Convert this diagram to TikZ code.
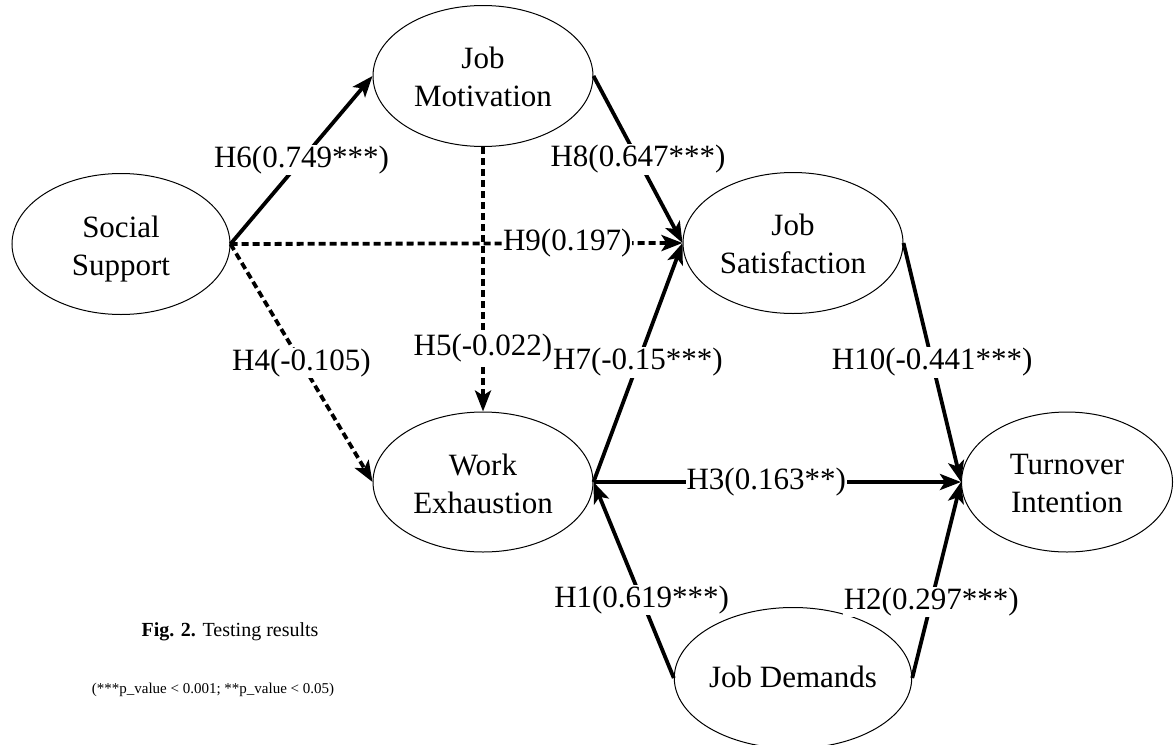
\documentclass[tikz,border=0pt]{standalone}
\usepackage{fontspec}
\setmainfont{Liberation Serif}
\usetikzlibrary{shapes.geometric,arrows.meta}
\newcommand\lowtext[2]{\raisebox{-#1}[\height][\depth]{\begin{tabular}{@{}c@{}}#2\end{tabular}}}
\begin{document}
\begin{tikzpicture}[x=1pt,y=-1pt,
  latent/.style={ellipse,draw,line width=1pt,inner sep=0pt,align=center,
    minimum width=220pt,minimum height=141pt,font=\fontsize{31}{38}\selectfont},
  hpath/.style={line width=3.8pt,-{Stealth[length=21pt,width=16pt,inset=5pt]}},
  dpath/.style={hpath,dash pattern=on 7pt off 4pt},
  lab/.style={fill=white,inner sep=1pt,font=\fontsize{31}{38}\selectfont}]
\useasboundingbox (0,0) rectangle (1174,744);
\node[latent,minimum width=218pt] (ss) at (121,244) {\lowtext{5pt}{Social\\Support}};
\node[latent] (jm) at (483,76) {\lowtext{4pt}{Job\\Motivation}};
\node[latent] (js) at (793,243) {\lowtext{4pt}{Job\\Satisfaction}};
\node[latent,minimum height=140pt] (we) at (483,482) {\lowtext{5pt}{Work\\Exhaustion}};
\node[latent,minimum width=211pt,minimum height=140pt] (ti) at (1067,482) {\lowtext{4pt}{Turnover\\Intention}};
\node[latent] (jd) at (793,678) {\lowtext{2pt}{Job Demands}};
\draw[hpath] (ss.east) -- node[lab,pos=0.5] {H6(0.749***)} (jm.west);
\draw[hpath] (jm.east) -- node[lab,pos=0.5] {H8(0.647***)} (js.west);
\draw[dpath] (ss.east) -- node[lab,pos=0.745] {H9(0.197)} (js.west);
\draw[dpath] (jm.south) -- node[lab,pos=0.76] {H5(-0.022)} (we.north);
\draw[dpath] (ss.east) -- node[lab,pos=0.5] {H4(-0.105)} (we.west);
\draw[hpath] (we.east) -- node[lab,pos=0.5] {H7(-0.15***)} (js.west);
\draw[hpath] (we.east) -- node[lab,pos=0.47] {H3(0.163**)} (ti.west);
\draw[hpath] (js.east) -- node[lab,pos=0.5] {H10(-0.441***)} (ti.west);
\draw[hpath] (jd.west) -- node[lab,pos=0.4] {H1(0.619***)} (we.east);
\draw[hpath] (jd.east) -- node[lab,pos=0.39] {H2(0.297***)} (ti.west);
\node[font=\fontsize{20}{24}\selectfont] (cap) at (230,632) {\textbf{Fig. 2.} Testing results};
\node[font=\fontsize{15}{18}\selectfont] (note) at (213,690) {(***p\_value < 0.001; **p\_value < 0.05)};
\end{tikzpicture}
\end{document}
